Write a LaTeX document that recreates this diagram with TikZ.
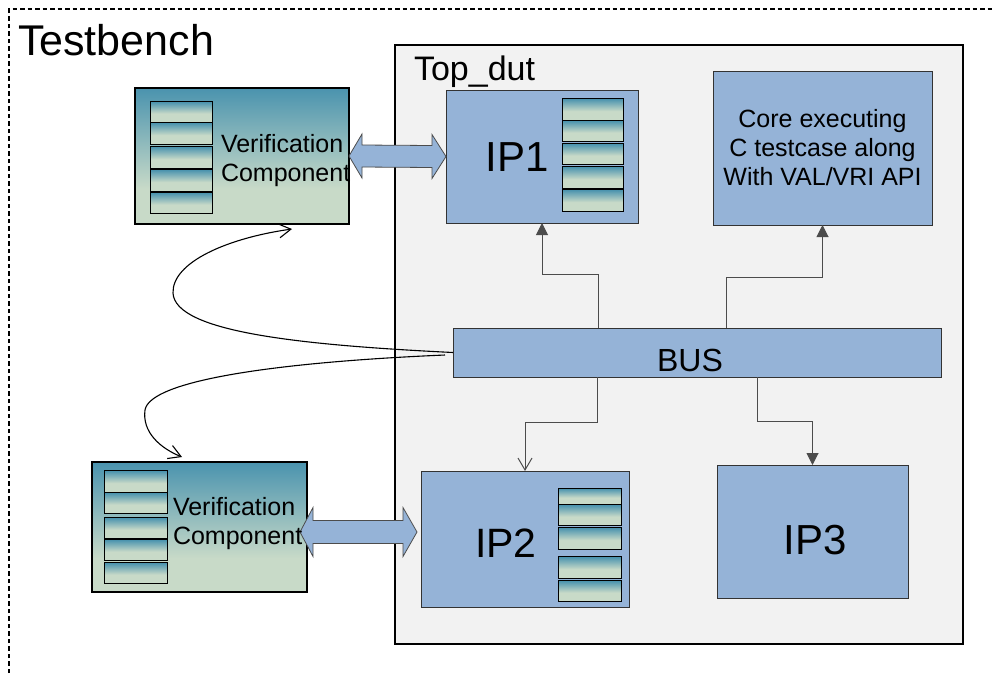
\documentclass[tikz,border=0pt]{standalone}
\usepackage{fontspec}
\setmainfont{Liberation Sans}
\usetikzlibrary{arrows.meta,calc}
\definecolor{tealtop}{HTML}{4A93AE}
\definecolor{sage}{HTML}{C8DAC8}
\definecolor{ipblue}{HTML}{95B3D7}
\definecolor{dutgray}{HTML}{F2F2F2}
\pgfdeclareverticalshading{vcshade}{100bp}{color(0bp)=(sage); color(38bp)=(sage); color(75bp)=(tealtop); color(100bp)=(tealtop)}
\pgfdeclareverticalshading{minishade}{100bp}{color(0bp)=(sage); color(45bp)=(sage); color(73bp)=(tealtop); color(100bp)=(tealtop)}
\tikzset{
  boxbase/.style={rectangle, inner sep=0pt, outer sep=0pt},
  dutbox/.style={boxbase, fill=dutgray, draw=black, line width=1.3pt},
  ipbox/.style={boxbase, fill=ipblue, draw=black!80, line width=1pt},
  vcbox/.style={boxbase, shading=vcshade, draw=black, line width=1.3pt},
  minibox/.style={boxbase, shading=minishade, draw=black, line width=0.9pt},
  txt/.style={inner sep=0pt, outer sep=0pt, text=black},
  dblarrow/.style={fill=ipblue, draw=black!70, line width=0.8pt, line join=miter},
  conn/.style={draw=black!70, line width=1pt},
  tri/.style={-{Triangle[length=12pt,width=12pt]}},
  openv/.style={-{Straight Barb[length=12pt,width=14pt,line width=1pt]}},
  swoop/.style={draw=black, line width=1.1pt, -{Straight Barb[length=12pt,width=14pt,line width=1.1pt]}},
  border/.style={draw=black, line width=1.3pt, dash pattern=on 4.5pt off 3pt}
}
\begin{document}
\begin{tikzpicture}[x=1pt,y=-1pt]
\useasboundingbox (0,0) rectangle (993,673);
\fill[white] (0,0) rectangle (993,673);
\draw[border] (9,673) -- (9,9) -- (993,9);
\node[txt, anchor=base west, font=\fontsize{43}{51}\selectfont] (tb) at (18,55) {Testbench};

% Top_dut
\node[dutbox, minimum width=568, minimum height=599] (dut) at (679,344.5) {};
\node[txt, anchor=base west, font=\fontsize{34}{41}\selectfont] (dutlbl) at (414,80) {Top\_dut};

% blocks
\node[vcbox, minimum width=214, minimum height=136] (vc1) at (242,156) {};
\node[vcbox, minimum width=215, minimum height=130] (vc2) at (199.5,527) {};
\node[ipbox, minimum width=192, minimum height=133] (ip1) at (542,156.5) {};
\node[ipbox, minimum width=219, minimum height=154, align=center, font=\fontsize{25}{29}\selectfont] (core) at (822.5,148) {Core executing\\C testcase along\\With VAL/VRI API};
\node[ipbox, minimum width=488, minimum height=49] (bus) at (697,352.5) {};
\node[ipbox, minimum width=208, minimum height=136] (ip2) at (525,539) {};
\node[ipbox, minimum width=191, minimum height=133] (ip3) at (812.5,531.5) {};

\draw[line width=2pt] (vc1.south west) -- (vc1.south east);
\draw[line width=2pt] (vc2.south west) -- (vc2.south east);

% small register boxes
\foreach \t/\b [count=\i] in {101/122,122/144,146/168,169/191,192/213}
  \node[minibox, minimum width=62, minimum height={\b-\t}] (vcA\i) at (181,{(\t+\b)/2}) {};
\foreach \t/\b [count=\i] in {470/492,492/513,517/538,539/560,562/583}
  \node[minibox, minimum width=63, minimum height={\b-\t}] (vcB\i) at (135.5,{(\t+\b)/2}) {};
\foreach \t/\b [count=\i] in {98/120,120/141,143/164,166/188,189/211}
  \node[minibox, minimum width=61, minimum height={\b-\t}] (ipA\i) at (592.5,{(\t+\b)/2}) {};
\foreach \t/\b [count=\i] in {488/504,504/525,527/549,556/578,580/601}
  \node[minibox, minimum width=63, minimum height={\b-\t}] (ipB\i) at (589.5,{(\t+\b)/2}) {};

% block labels
\node[txt, font=\fontsize{42}{50}\selectfont] (ip1lbl) at (517,157.5) {IP1};
\node[txt, font=\fontsize{41}{49}\selectfont] (ip2lbl) at (506,543.5) {IP2};
\node[txt, font=\fontsize{42}{50}\selectfont] (ip3lbl) at (815,540) {IP3};
\node[txt, font=\fontsize{32}{38}\selectfont] (buslbl) at (690,360.5) {BUS};

% double arrows
\draw[dblarrow] (vc1.east) -- ++(13,-22) -- ++(0,11) -- ($(ip1.west)+(-14,-11)$) -- ++(0,-11) -- (ip1.west) -- ++(-14,22) -- ++(0,-11) -- ($(vc1.east)+(13,11)$) -- ++(0,11) -- cycle;
\coordinate (a2l) at ($(vc2.east)+(-7,5)$);
\coordinate (a2r) at ($(ip2.west)+(-4,-7)$);
\draw[dblarrow] (a2l) -- ++(13,-24.5) -- ++(0,13) -- ($(a2r)+(-14,-11.5)$) -- ++(0,-13) -- (a2r) -- ++(-14,24.5) -- ++(0,-13) -- ($(a2l)+(13,11.5)$) -- ++(0,13) -- cycle;

% verification component labels
\node[txt, anchor=west, align=left, font=\fontsize{25}{29}\selectfont] (vc1lbl) at (221,161) {Verification\\Component};
\node[txt, anchor=west, align=left, font=\fontsize{25}{29}\selectfont] (vc2lbl) at (173,524) {Verification\\Component};

% bus connectors
\draw[conn, tri] ([xshift=145pt]bus.north west) -- ++(0,-54) -| (ip1.south);
\draw[conn, tri] ([xshift=273pt]bus.north west) -- ++(0,-51) -| (core.south);
\draw[conn, openv] ([xshift=144pt]bus.south west) -- ++(0,45) -| (ip2.north);
\draw[conn, tri] ([xshift=304pt]bus.south west) -- ++(0,44) -| (ip3.north);

% curved links from the bus to the verification components
\coordinate (tipA) at (292,229);
\coordinate (tipB) at (182,457);
\draw[swoop] (bus.west) .. controls (300,345) and (175,332) .. (173,293) .. controls (172,262) and (228,238) .. (tipA);
\draw[swoop] ([xshift=-8pt,yshift=-2.5pt]bus.west) .. controls (280,362) and (150,380) .. (145,410) .. controls (142,432) and (160,448) .. (tipB);
\end{tikzpicture}
\end{document}
